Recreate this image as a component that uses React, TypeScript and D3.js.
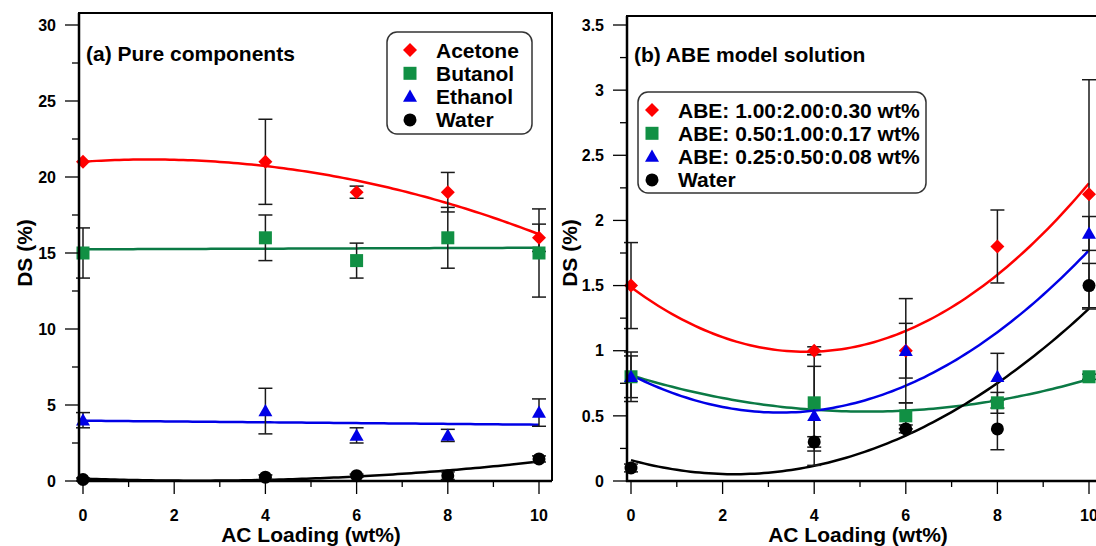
import * as d3 from 'd3'

// AC loading (wt%) for every measurement
const loadings = [0, 4, 6, 8, 10]

// (a) pure components, DS (%) and error
const acetone = [21, 21, 19, 19, 16]
const acetoneErr = [0, 2.8, 0.4, 1.3, 0.9]
const butanol = [15, 16, 14.5, 16, 15]
const butanolErr = [1.65, 1.5, 1.15, 2.0, 2.9]
const ethanol = [4, 4.6, 3, 3, 4.5]
const ethanolErr = [0.5, 1.5, 0.5, 0.4, 0.9]
const waterA = [0.1, 0.25, 0.35, 0.35, 1.45]
const waterAErr = [0.1, 0.15, 0.1, 0.25, 0.2]

// (b) ABE model solution
const abe1 = [1.5, 1.0, 1.0, 1.8, 2.2]
const abe1Err = [0.33, 0.03, 0.4, 0.28, 0.88]
const abe2 = [0.8, 0.6, 0.5, 0.6, 0.8]
const abe2Err = [0.16, 0.37, 0.1, 0.08, 0.02]
const abe3 = [0.8, 0.5, 1.0, 0.8, 1.9]
const abe3Err = [0.19, 0.38, 0.21, 0.18, 0.13]
const waterB = [0.1, 0.3, 0.4, 0.4, 1.5]
const waterBErr = [0.03, 0.04, 0.03, 0.16, 0.17]

const xTicks = [0, 2, 4, 6, 8, 10]
const yTicksA = [0, 5, 10, 15, 20, 25, 30]
const yTicksB = [0, 0.5, 1, 1.5, 2, 2.5, 3, 3.5]

const RED = '#ff0000'
const GREEN = '#119044'
const GREEN_LINE = '#0b7a45'
const BLUE = '#0000e6'
const BLACK = '#000000'
const FONT = '"Liberation Sans", Arial, sans-serif'

// least squares polynomial fit (the trend lines of the original)
const polyfit = (xs, ys, deg) => {
  const n = deg + 1
  const m = Array.from({length: n}, (_, i) =>
    Array.from({length: n + 1}, (_, j) =>
      j < n ? d3.sum(xs, x => Math.pow(x, i + j)) : d3.sum(xs, (x, k) => Math.pow(x, i) * ys[k])))
  for (let c = 0; c < n; c++) {
    for (let r = c + 1; r < n; r++) {
      const f = m[r][c] / m[c][c]
      for (let j = c; j <= n; j++) m[r][j] -= f * m[c][j]
    }
  }
  const coef = new Array(n).fill(0)
  for (let r = n - 1; r >= 0; r--) {
    let s = m[r][n]
    for (let j = r + 1; j < n; j++) s -= m[r][j] * coef[j]
    coef[r] = s / m[r][r]
  }
  return x => coef.reduce((acc, c, i) => acc + c * Math.pow(x, i), 0)
}

const Marker = ({shape, x, y, color, s = 7}) => {
  if (shape === 'diamond')
    return <path d={`M${x},${y - s}L${x + s},${y}L${x},${y + s}L${x - s},${y}Z`} fill={color} />
  if (shape === 'square')
    return <rect x={x - s + 0.5} y={y - s + 0.5} width={2 * s - 1} height={2 * s - 1} fill={color} />
  if (shape === 'triangle')
    return <path d={`M${x},${y - s}L${x + s},${y + s * 0.75}L${x - s},${y + s * 0.75}Z`} fill={color} />
  return <circle cx={x} cy={y} r={s - 0.5} fill={color} />
}

const Panel = ({frame, yDomain, yTicks, yMinorStep, series, label, legend, titleX, yTitleX}) => {
  const x = d3.scaleLinear().domain([0, 10]).range(frame.xr)
  const y = d3.scaleLinear().domain(yDomain).range([481, 25])
  const [left, right] = frame.box
  const top = frame.top
  const bottom = y(0)
  const minorY = d3.range(yDomain[0] + yMinorStep, yDomain[1], yMinorStep * 2)
  const minorX = [1, 3, 5, 7, 9]
  const xs = d3.range(0, 10.001, 0.1)

  return (
    <g>
      {/* fit lines */}
      {series.map((s, i) => {
        const f = polyfit(loadings, s.values, s.deg)
        const line = d3.line().x(d => x(d)).y(d => y(f(d)))
        return <path key={'f' + i} d={line(xs)} fill="none" stroke={s.line || s.color} strokeWidth={2.5} />
      })}
      {/* error bars */}
      {series.map((s, i) => (
        <g key={'e' + i} stroke="#1a1a1a" strokeWidth={1.5}>
          {s.err.map((e, k) => e > 0 ? (
            <g key={k}>
              <line x1={x(loadings[k])} x2={x(loadings[k])} y1={y(s.values[k] + e)} y2={y(s.values[k] - e)} />
              <line x1={x(loadings[k]) - 7} x2={x(loadings[k]) + 7} y1={y(s.values[k] + e)} y2={y(s.values[k] + e)} />
              <line x1={x(loadings[k]) - 7} x2={x(loadings[k]) + 7} y1={y(s.values[k] - e)} y2={y(s.values[k] - e)} />
            </g>
          ) : null)}
        </g>
      ))}
      {/* markers */}
      {series.map((s, i) => (
        <g key={'m' + i}>
          {s.values.map((v, k) => <Marker key={k} shape={s.shape} x={x(loadings[k])} y={y(v)} color={s.color} />)}
        </g>
      ))}

      {/* frame */}
      <path d={`M${left},${bottom}V${top}H${right}V${bottom}`} fill="none" stroke="#000" strokeWidth={2} />
      <line x1={left - 1} x2={right} y1={bottom} y2={bottom} stroke="#000" strokeWidth={2.5} />
      <line x1={left} x2={left} y1={top} y2={bottom + 1} stroke="#000" strokeWidth={2.5} />

      {/* y ticks */}
      {yTicks.map(t => (
        <g key={'y' + t}>
          <line x1={left - 14} x2={left} y1={y(t)} y2={y(t)} stroke="#000" strokeWidth={1.3} />
          <text x={left - 23} y={y(t)} dy="0.36em" textAnchor="end" fontSize={16} fontWeight="bold" fontFamily={FONT}>{t}</text>
        </g>
      ))}
      {minorY.map(t => (
        <line key={'ym' + t} x1={left - 7} x2={left} y1={y(t)} y2={y(t)} stroke="#000" strokeWidth={1.3} />
      ))}
      {/* x ticks */}
      {xTicks.map(t => (
        <g key={'x' + t}>
          <line x1={x(t)} x2={x(t)} y1={bottom} y2={bottom + 13} stroke="#000" strokeWidth={1.3} />
          <text x={x(t)} y={bottom + 40} textAnchor="middle" fontSize={16} fontWeight="bold" fontFamily={FONT}>{t}</text>
        </g>
      ))}
      {minorX.map(t => (
        <line key={'xm' + t} x1={x(t)} x2={x(t)} y1={bottom} y2={bottom + 6} stroke="#000" strokeWidth={1.3} />
      ))}

      {/* axis titles */}
      <text x={titleX} y={542} textAnchor="middle" fontSize={21} fontWeight="bold" fontFamily={FONT}>AC Loading (wt%)</text>
      <text transform={`translate(${yTitleX},253) rotate(-90)`} textAnchor="middle" fontSize={21} fontWeight="bold" fontFamily={FONT}>DS (%)</text>

      {/* panel label */}
      <text x={label.x} y={label.y} fontSize={21} fontWeight="bold" fontFamily={FONT}>{label.text}</text>

      {/* legend */}
      <rect x={legend.x} y={legend.y} width={legend.w} height={legend.h} rx={10} fill="#fff" stroke="#333" strokeWidth={1.5} />
      {series.map((s, i) => (
        <g key={'l' + i}>
          <Marker shape={s.shape} x={legend.x + legend.sym} y={legend.y + 18 + i * 23.3} color={s.color} />
          <text x={legend.x + legend.txt} y={legend.y + 18 + i * 23.3} dy="0.36em" fontSize={21} fontWeight="bold" fontFamily={FONT}>{s.name}</text>
        </g>
      ))}
    </g>
  )
}

const seriesA = [
  {name: 'Acetone', values: acetone, err: acetoneErr, color: RED, shape: 'diamond', deg: 2},
  {name: 'Butanol', values: butanol, err: butanolErr, color: GREEN, line: GREEN_LINE, shape: 'square', deg: 1},
  {name: 'Ethanol', values: ethanol, err: ethanolErr, color: BLUE, shape: 'triangle', deg: 1},
  {name: 'Water', values: waterA, err: waterAErr, color: BLACK, shape: 'circle', deg: 2},
]

const seriesB = [
  {name: 'ABE: 1.00:2.00:0.30 wt%', values: abe1, err: abe1Err, color: RED, shape: 'diamond', deg: 2},
  {name: 'ABE: 0.50:1.00:0.17 wt%', values: abe2, err: abe2Err, color: GREEN, line: GREEN_LINE, shape: 'square', deg: 2},
  {name: 'ABE: 0.25:0.50:0.08 wt%', values: abe3, err: abe3Err, color: BLUE, shape: 'triangle', deg: 2},
  {name: 'Water', values: waterB, err: waterBErr, color: BLACK, shape: 'circle', deg: 2},
]

export default function App() {
  return (
    <svg width={1096} height={546} style={{position: 'absolute', left: 0, top: 0, background: '#fff'}}>
      <Panel
        frame={{xr: [83, 539], box: [79, 552], top: 13}}
        yDomain={[0, 30]}
        yTicks={yTicksA}
        yMinorStep={2.5}
        series={seriesA}
        label={{text: '(a) Pure components', x: 86, y: 61}}
        legend={{x: 387, y: 32, w: 145, h: 102, sym: 23, txt: 49}}
        titleX={311}
        yTitleX={32}
      />
      <Panel
        frame={{xr: [631, 1089], box: [627, 1102], top: 16}}
        yDomain={[0, 3.5]}
        yTicks={yTicksB}
        yMinorStep={0.25}
        series={seriesB}
        label={{text: '(b) ABE model solution', x: 634, y: 62}}
        legend={{x: 638, y: 92, w: 288, h: 101, sym: 14, txt: 40}}
        titleX={858}
        yTitleX={577}
      />
    </svg>
  )
}
